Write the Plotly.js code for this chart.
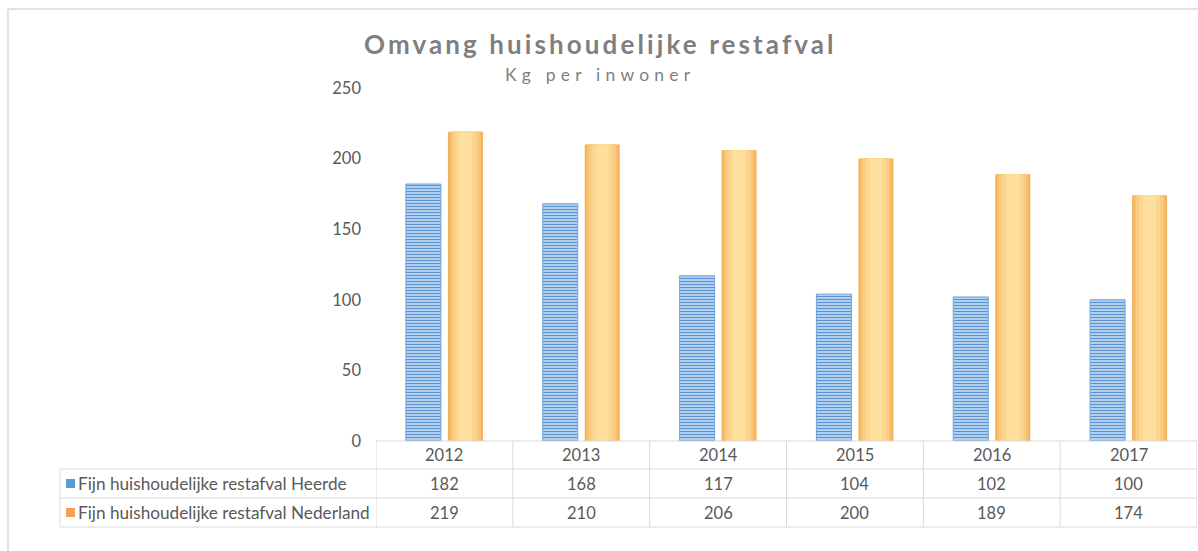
<!DOCTYPE html>
<html>
<head>
<meta charset="utf-8">
<script src="https://cdn.plot.ly/plotly-3.0.1.min.js"></script>
<style>
html,body{margin:0;padding:0;background:#fff;}
#chart{width:1198px;height:551px;}
</style>
</head>
<body>
<div id="chart"></div>
<script>
// ---- data ----
const years = ['2012', '2013', '2014', '2015', '2016', '2017'];
const heerde = [182, 168, 117, 104, 102, 100];
const nederland = [219, 210, 206, 200, 189, 174];
const seriesNames = ['Fijn huishoudelijke restafval Heerde', 'Fijn huishoudelijke restafval Nederland'];
const yTicks = [0, 50, 100, 150, 200, 250];
const titleText = 'Omvang huishoudelijke restafval';
const subtitleText = 'Kg per inwoner';

// ---- layout geometry (pixels) ----
const W = 1198, H = 551;
const plotL = 376, plotR = 1197, plotT = 88, plotB = 441;
const pw = plotR - plotL, ph = plotB - plotT;
const catPx = pw / years.length;
const px2cat = p => p / catPx;
const pxX = p => (p - plotL) / pw;     // page x -> paper x
const pxY = p => (plotB - p) / ph;     // page y -> paper y

const barW = 35;
const blueOff = -38.5, orangeOff = 3.5;

const traces = [];
traces.push({
  type: 'bar', x: years, y: heerde, name: seriesNames[0],
  width: px2cat(barW), offset: px2cat(blueOff),
  marker: {
    color: '#C6DCF3',
    line: {color: '#6FA3DC', width: 1},
    pattern: {shape: '-', fgcolor: '#5B94D6', bgcolor: '#C6DCF3', size: 3, solidity: 0.45, fillmode: 'replace'}
  },
  hoverinfo: 'skip', showlegend: false
});
const orangeLayers = [[0, '#F5B25E'], [2, '#F8BF6E'], [4, '#FACB80'], [7, '#FCD690'], [11, '#FEDF9D']];
orangeLayers.forEach(([inset, col]) => {
  traces.push({
    type: 'bar', x: years, y: nederland, name: seriesNames[1],
    width: px2cat(barW - 2 * inset), offset: px2cat(orangeOff + inset),
    marker: {color: col, line: {width: 0}},
    hoverinfo: 'skip', showlegend: false
  });
});

// ---- data table (shapes + annotations) ----
const grid = '#D9D9D9';
const shapes = [];
const annotations = [];
const rowY = [441, 469, 498, 527];
const leftX = 60;
// horizontal lines
shapes.push({type: 'line', xref: 'paper', yref: 'paper', x0: 0, x1: pxX(plotR), y0: pxY(rowY[0]), y1: pxY(rowY[0]), line: {color: grid, width: 1}});
for (let i = 1; i < rowY.length; i++) {
  shapes.push({type: 'line', xref: 'paper', yref: 'paper', x0: pxX(leftX), x1: pxX(plotR), y0: pxY(rowY[i]), y1: pxY(rowY[i]), line: {color: grid, width: 1}});
}
// vertical lines at category boundaries
for (let i = 0; i <= years.length; i++) {
  shapes.push({type: 'line', xref: 'x', yref: 'paper', x0: i - 0.5, x1: i - 0.5, y0: pxY(rowY[0]), y1: pxY(rowY[3]), line: {color: grid, width: 1}});
}
// left border of legend column
shapes.push({type: 'line', xref: 'paper', yref: 'paper', x0: pxX(leftX), x1: pxX(leftX), y0: pxY(rowY[1]), y1: pxY(rowY[3]), line: {color: grid, width: 1}});
// chart frame
shapes.push({type: 'line', xref: 'paper', yref: 'paper', x0: pxX(8), x1: pxX(8), y0: pxY(9), y1: pxY(H + 5), line: {color: '#D9D9D9', width: 1.5}});
shapes.push({type: 'line', xref: 'paper', yref: 'paper', x0: pxX(8), x1: pxX(W + 5), y0: pxY(9), y1: pxY(9), line: {color: '#D9D9D9', width: 1.5}});

const tableFont = {family: 'Lato, Calibri, sans-serif', size: 16.5, color: '#595959'};
const keyFont = {family: 'Lato, Calibri, sans-serif', size: 17.2, color: '#595959'};
years.forEach((yr, i) => {
  annotations.push({xref: 'x', yref: 'paper', x: i, y: pxY((rowY[0] + rowY[1]) / 2), text: yr, showarrow: false, font: tableFont, xanchor: 'center', yanchor: 'middle'});
  annotations.push({xref: 'x', yref: 'paper', x: i, y: pxY((rowY[1] + rowY[2]) / 2), text: String(heerde[i]), showarrow: false, font: tableFont, xanchor: 'center', yanchor: 'middle'});
  annotations.push({xref: 'x', yref: 'paper', x: i, y: pxY((rowY[2] + rowY[3]) / 2), text: String(nederland[i]), showarrow: false, font: tableFont, xanchor: 'center', yanchor: 'middle'});
});
const keyColors = ['#5B9BD5', '#F4A259'];
seriesNames.forEach((nm, k) => {
  const cy = (rowY[k + 1] + rowY[k + 2]) / 2;
  shapes.push({type: 'rect', xref: 'paper', yref: 'paper', x0: pxX(66), x1: pxX(75), y0: pxY(cy - 4.5), y1: pxY(cy + 4.5), fillcolor: keyColors[k], line: {width: 0}});
  annotations.push({xref: 'paper', yref: 'paper', x: pxX(76), y: pxY(cy), text: nm, showarrow: false, font: keyFont, xanchor: 'left', yanchor: 'middle'});
});

// titles
annotations.push({xref: 'paper', yref: 'paper', x: pxX(600), y: pxY(44), xanchor: 'center', yanchor: 'middle', showarrow: false,
  text: '<span style="letter-spacing:3.1px">' + titleText + '</span>',
  font: {family: 'Lato, Calibri, sans-serif', size: 26, color: '#7F7F7F', weight: 'bold'}});
annotations.push({xref: 'paper', yref: 'paper', x: pxX(600), y: pxY(75), xanchor: 'center', yanchor: 'middle', showarrow: false,
  text: '<span style="letter-spacing:5.2px">' + subtitleText + '</span>',
  font: {family: 'Lato, Calibri, sans-serif', size: 17.5, color: '#7F7F7F'}});

const layout = {
  width: W, height: H,
  margin: {l: plotL, r: W - plotR, t: plotT, b: H - plotB, pad: 0},
  paper_bgcolor: '#FFFFFF', plot_bgcolor: '#FFFFFF',
  barmode: 'overlay',
  showlegend: false,
  xaxis: {type: 'category', showticklabels: false, showgrid: false, zeroline: false, showline: false, ticks: '', range: [-0.5, years.length - 0.5], fixedrange: true},
  yaxis: {range: [0, 250], tickvals: yTicks, ticktext: yTicks.map(String), showgrid: false, zeroline: false, showline: false, ticks: '',
    ticklabelstandoff: 14, tickfont: {family: 'Lato, Calibri, sans-serif', size: 16.5, color: '#595959'}, fixedrange: true},
  shapes: shapes,
  annotations: annotations,
  font: {family: 'Lato, Calibri, sans-serif'}
};

Plotly.newPlot('chart', traces, layout, {displayModeBar: false, staticPlot: true});
</script>
</body>
</html>
